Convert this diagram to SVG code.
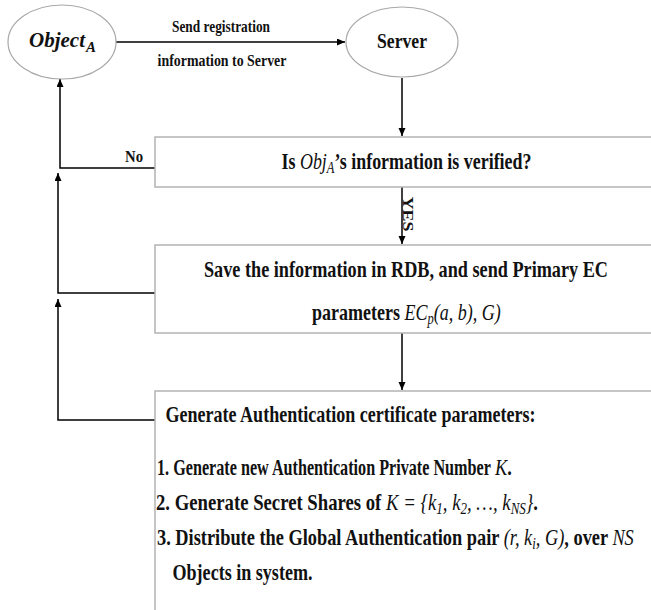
<svg xmlns="http://www.w3.org/2000/svg" width="651" height="610" viewBox="0 0 651 610">
<style>
.t{font-family:"Liberation Serif","Times New Roman",serif;font-weight:bold;fill:#111}
.m{font-style:italic;font-weight:normal}
.box{fill:#fff;stroke:#b3b3b3;stroke-width:1.5}
.ell{fill:#fff;stroke:#a8a8a8;stroke-width:1.2}
.c{fill:none;stroke:#000;stroke-width:1.5}
</style>
<defs>
<marker id="ah" markerUnits="userSpaceOnUse" markerWidth="9" markerHeight="8" refX="8" refY="3.5" orient="auto">
<path d="M0,0 L8,3.5 L0,7 z" fill="#000"/>
</marker>
</defs>
<rect width="651" height="610" fill="#fff"/>
<g id="connectors">
<path class="c" d="M116,42 H345" marker-end="url(#ah)"/>
<path class="c" d="M402,78 V136" marker-end="url(#ah)"/>
<path class="c" d="M402,187 V244" marker-end="url(#ah)"/>
<path class="c" d="M402,333 V390" marker-end="url(#ah)"/>
<path class="c" d="M155,168 H60 V79" marker-end="url(#ah)"/>
<path class="c" d="M155,293 H58 V173" marker-end="url(#ah)"/>
<path class="c" d="M155,420 H58 V299" marker-end="url(#ah)"/>
<text class="t" transform="translate(221,32) scale(0.8,1)" font-size="17" text-anchor="middle" textLength="122.5" lengthAdjust="spacingAndGlyphs">Send registration</text>
<text class="t" transform="translate(222,66) scale(0.8,1)" font-size="17" text-anchor="middle" textLength="161" lengthAdjust="spacingAndGlyphs">information to Server</text>
<text class="t" transform="translate(125,162) scale(0.8,1)" font-size="17" textLength="22.5" lengthAdjust="spacingAndGlyphs">No</text>
<text class="t" transform="translate(403,214) rotate(90)" font-size="15" text-anchor="middle" textLength="35" lengthAdjust="spacingAndGlyphs">YES</text>
</g>
<g id="objectA">
<ellipse class="ell" cx="62" cy="42" rx="54" ry="37"/>
<text class="t" x="29" y="47" font-size="21" font-style="italic" textLength="56" lengthAdjust="spacingAndGlyphs">Object</text>
<text class="t" x="86" y="52" font-size="15" font-style="italic">A</text>
</g>
<g id="server">
<ellipse class="ell" cx="402" cy="42" rx="56" ry="35"/>
<text class="t" transform="translate(377,48) scale(0.8,1)" font-size="22" textLength="62.5" lengthAdjust="spacingAndGlyphs">Server</text>
</g>
<g id="verify">
<rect class="box" x="155" y="137" width="520" height="50"/>
<text class="t" transform="translate(281.5,169) scale(0.8,1)" font-size="23" textLength="312.5" lengthAdjust="spacingAndGlyphs">Is <tspan class="m">Obj</tspan><tspan class="m" dy="4" font-size="16">A</tspan><tspan dy="-4">’s information is verified?</tspan></text>
</g>
<g id="save">
<rect class="box" x="155" y="245" width="520" height="88"/>
<text class="t" transform="translate(204,277) scale(0.8,1)" font-size="23" textLength="505" lengthAdjust="spacingAndGlyphs">Save the information in RDB, and send Primary EC</text>
<text class="t" transform="translate(312,320) scale(0.8,1)" font-size="23" textLength="236" lengthAdjust="spacingAndGlyphs">parameters <tspan class="m">EC</tspan><tspan class="m" dy="4" font-size="16">p</tspan><tspan class="m" dy="-4">(a, b), G)</tspan></text>
</g>
<g id="generate">
<rect class="box" x="155" y="391" width="520" height="240"/>
<text class="t" transform="translate(165.5,422) scale(0.8,1)" font-size="23" textLength="462.5" lengthAdjust="spacingAndGlyphs">Generate Authentication certificate parameters:</text>
<text class="t" transform="translate(157,475) scale(0.7,1)" font-size="23" textLength="477" lengthAdjust="spacingAndGlyphs">1. Generate new Authentication Private Number</text>
<text class="t" transform="translate(495,475) scale(0.8,1)" font-size="23"><tspan class="m">K</tspan>.</text>
<text class="t" transform="translate(156,510) scale(0.8,1)" font-size="23" textLength="477.5" lengthAdjust="spacingAndGlyphs">2. Generate Secret Shares of <tspan class="m">K = {k</tspan><tspan class="m" dy="4" font-size="16">1</tspan><tspan class="m" dy="-4">, k</tspan><tspan class="m" dy="4" font-size="16">2</tspan><tspan class="m" dy="-4">, …, k</tspan><tspan class="m" dy="4" font-size="16">NS</tspan><tspan class="m" dy="-4">}</tspan>.</text>
<text class="t" transform="translate(157,545) scale(0.8,1)" font-size="23" textLength="596" lengthAdjust="spacingAndGlyphs">3. Distribute the Global Authentication pair <tspan class="m">(r, k</tspan><tspan class="m" dy="4" font-size="16">i</tspan><tspan class="m" dy="-4">, G)</tspan>, over <tspan class="m">NS</tspan></text>
<text class="t" transform="translate(172.5,580) scale(0.8,1)" font-size="23" textLength="175" lengthAdjust="spacingAndGlyphs">Objects in system.</text>
</g>
</svg>
